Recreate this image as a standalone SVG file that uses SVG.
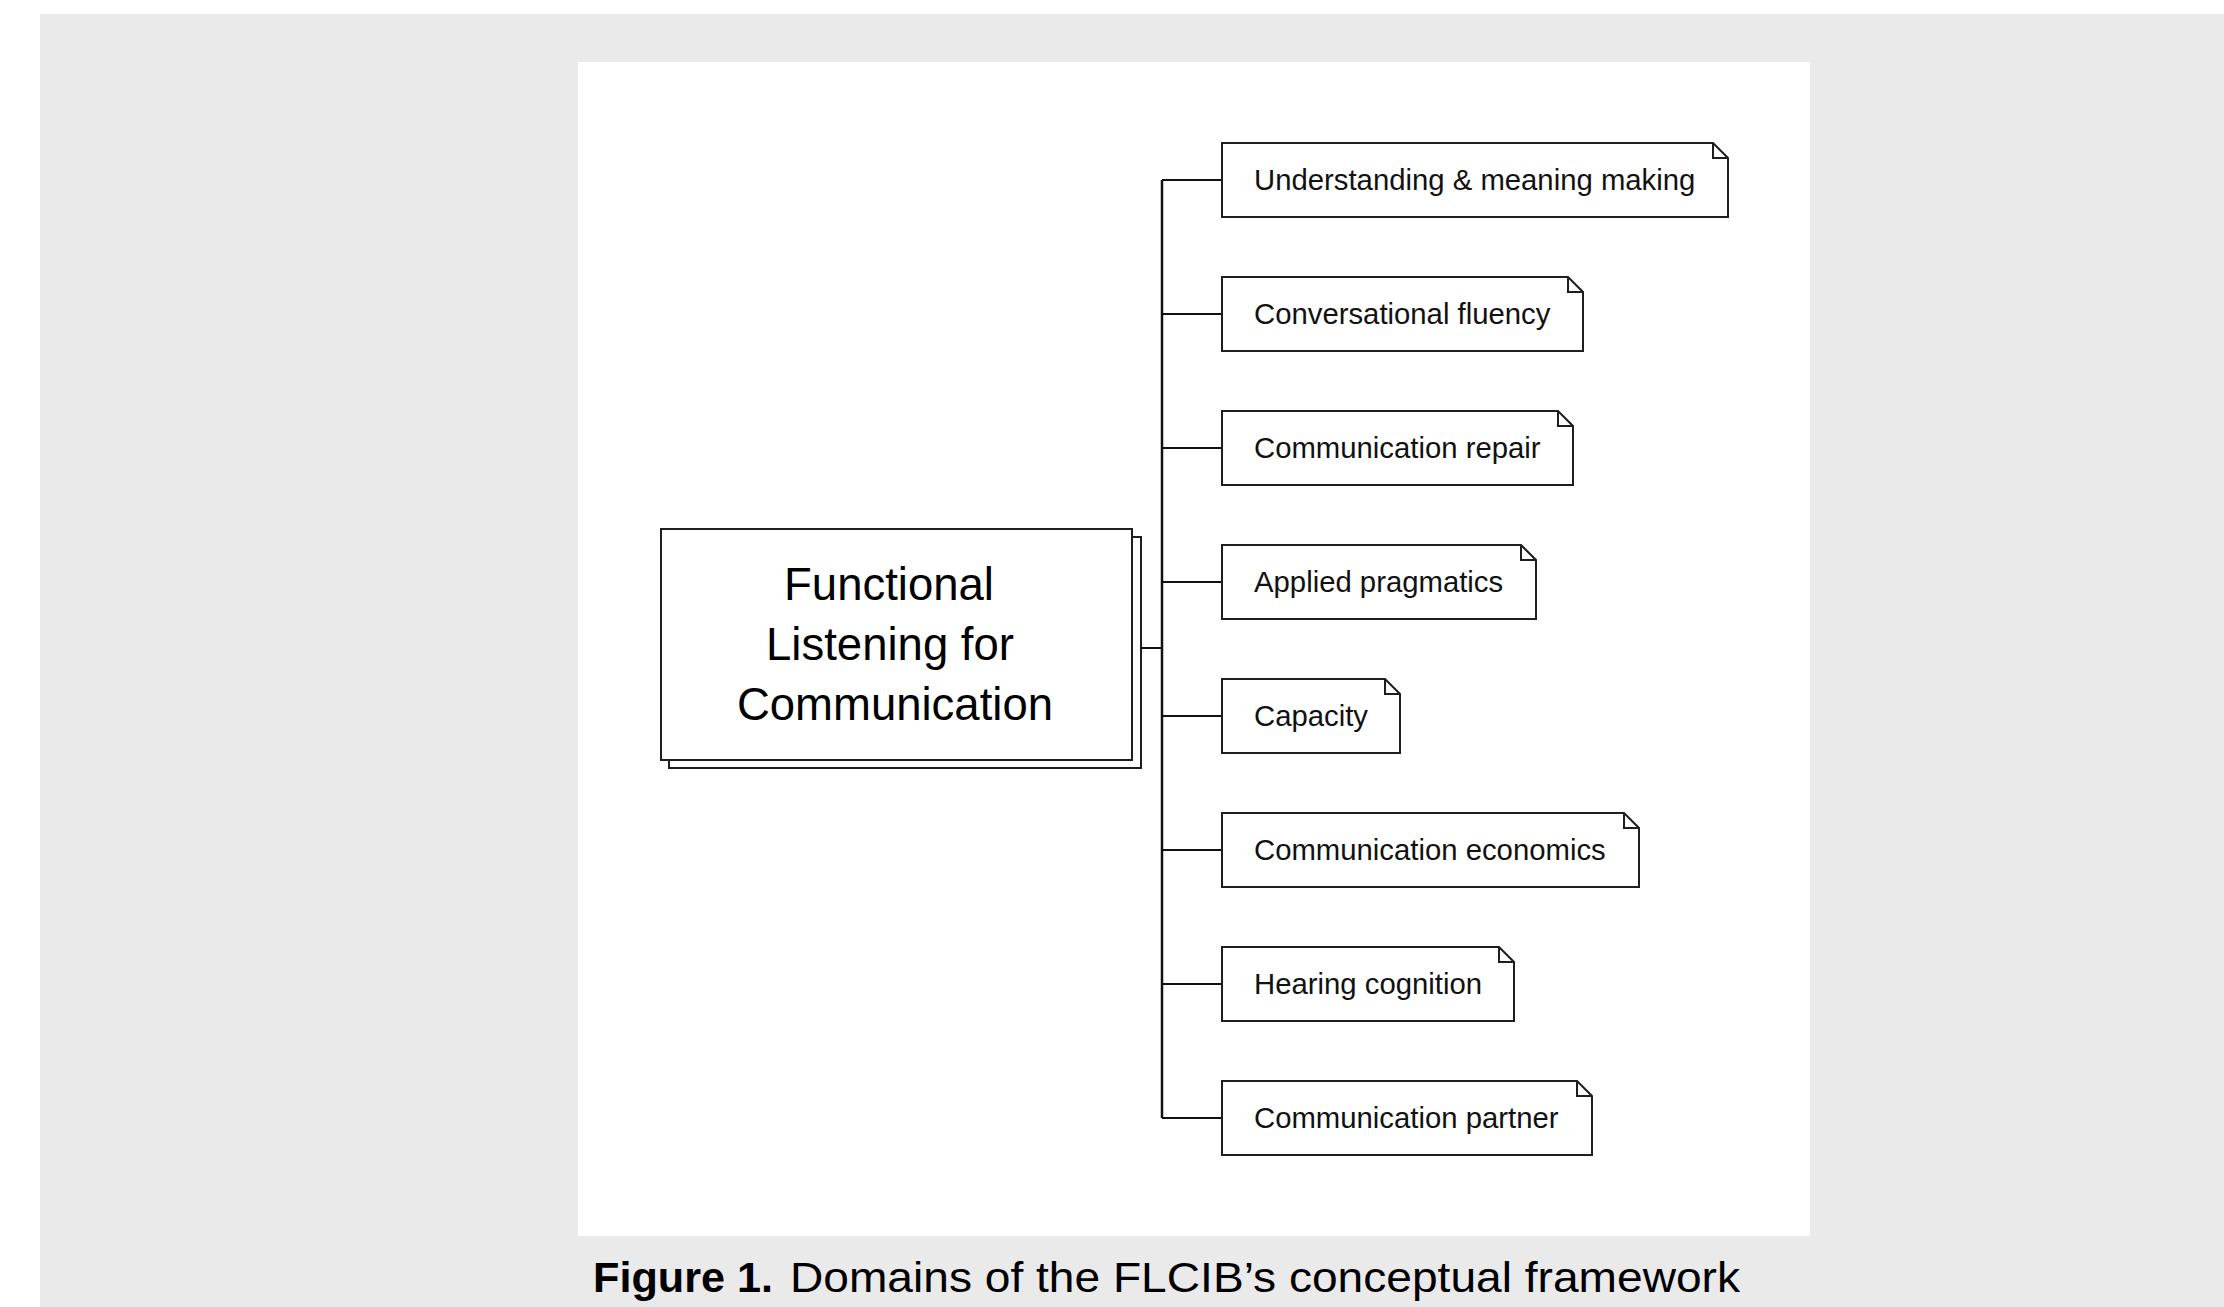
<svg xmlns="http://www.w3.org/2000/svg" width="2224" height="1307" viewBox="0 0 2224 1307">
  <style>
    .bg { fill: #eaeaea; }
    .panel { fill: #ffffff; }
    .box { fill: #ffffff; stroke: #1e1e1e; stroke-width: 2; }
    .note { fill: #ffffff; stroke: #1e1e1e; stroke-width: 2; stroke-linejoin: miter; }
    .fold { fill: none; stroke: #1e1e1e; stroke-width: 2; }
    .conn { fill: none; stroke: #111111; stroke-width: 2; }
    .trunk { fill: none; stroke: #111111; stroke-width: 2.5; }
    .lbl { font-family: "Liberation Sans", Arial, sans-serif; font-size: 29.3px; fill: #111111; }
    .main { font-family: "Liberation Sans", Arial, sans-serif; font-size: 45.5px; fill: #000000; text-anchor: middle; }
    .cap { font-family: "Liberation Sans", Arial, sans-serif; font-size: 42px; fill: #000000; }
  </style>
  <rect x="0" y="0" width="2224" height="1307" fill="#ffffff"/>
  <rect class="bg" x="40" y="14" width="2184" height="1293"/>
  <rect class="panel" x="578" y="62" width="1232" height="1174"/>

  <g id="connectors">
    <path class="trunk" d="M1162,180 V1118"/>
    <path class="conn" d="M1141,648 H1162"/>
    <path class="conn" d="M1162,180 H1222"/>
    <path class="conn" d="M1162,314 H1222"/>
    <path class="conn" d="M1162,448 H1222"/>
    <path class="conn" d="M1162,582 H1222"/>
    <path class="conn" d="M1162,716 H1222"/>
    <path class="conn" d="M1162,850 H1222"/>
    <path class="conn" d="M1162,984 H1222"/>
    <path class="conn" d="M1162,1118 H1222"/>
  </g>

  <g id="main">
    <rect class="box" x="669" y="537" width="472" height="231"/>
    <rect class="box" x="661" y="529" width="471" height="231"/>
    <text class="main" x="889" y="600">Functional</text>
    <text class="main" x="890" y="660">Listening for</text>
    <text class="main" x="895" y="720">Communication</text>
  </g>

  <g id="n1">
    <path class="note" d="M1222,143 H1713 L1728,158 V217 H1222 Z"/>
    <path class="fold" d="M1713,143 V158 H1728"/>
    <text class="lbl" x="1254" y="190">Understanding &amp; meaning making</text>
  </g>
  <g id="n2">
    <path class="note" d="M1222,277 H1568 L1583,292 V351 H1222 Z"/>
    <path class="fold" d="M1568,277 V292 H1583"/>
    <text class="lbl" x="1254" y="324">Conversational fluency</text>
  </g>
  <g id="n3">
    <path class="note" d="M1222,411 H1558 L1573,426 V485 H1222 Z"/>
    <path class="fold" d="M1558,411 V426 H1573"/>
    <text class="lbl" x="1254" y="458">Communication repair</text>
  </g>
  <g id="n4">
    <path class="note" d="M1222,545 H1521 L1536,560 V619 H1222 Z"/>
    <path class="fold" d="M1521,545 V560 H1536"/>
    <text class="lbl" x="1254" y="592">Applied pragmatics</text>
  </g>
  <g id="n5">
    <path class="note" d="M1222,679 H1385 L1400,694 V753 H1222 Z"/>
    <path class="fold" d="M1385,679 V694 H1400"/>
    <text class="lbl" x="1254" y="726">Capacity</text>
  </g>
  <g id="n6">
    <path class="note" d="M1222,813 H1624 L1639,828 V887 H1222 Z"/>
    <path class="fold" d="M1624,813 V828 H1639"/>
    <text class="lbl" x="1254" y="860">Communication economics</text>
  </g>
  <g id="n7">
    <path class="note" d="M1222,947 H1499 L1514,962 V1021 H1222 Z"/>
    <path class="fold" d="M1499,947 V962 H1514"/>
    <text class="lbl" x="1254" y="994">Hearing cognition</text>
  </g>
  <g id="n8">
    <path class="note" d="M1222,1081 H1577 L1592,1096 V1155 H1222 Z"/>
    <path class="fold" d="M1577,1081 V1096 H1592"/>
    <text class="lbl" x="1254" y="1128">Communication partner</text>
  </g>

  <g id="caption">
    <text class="cap" y="1292"><tspan x="593" font-weight="bold" textLength="180" lengthAdjust="spacingAndGlyphs">Figure 1.</tspan><tspan x="790" textLength="950" lengthAdjust="spacingAndGlyphs">Domains of the FLCIB’s conceptual framework</tspan></text>
  </g>
</svg>
